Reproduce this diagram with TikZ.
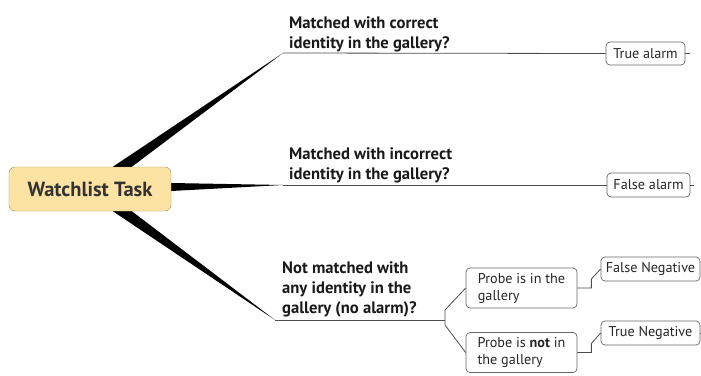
\documentclass[tikz,border=0pt]{standalone}
\usepackage{fontspec}
\setmainfont{PT Sans}
\usetikzlibrary{positioning,calc,backgrounds}

\definecolor{taskfill}{HTML}{FCE3A3}
\definecolor{taskline}{HTML}{9C8C6C}

\begin{document}
\begin{tikzpicture}[x=1pt,y=-1pt,
    task node/.style={draw=taskline,fill=taskfill,rounded corners=6pt,minimum width=162pt,
                      minimum height=44pt,text=black!80,font=\fontsize{20.5}{22}\selectfont\bfseries},
    question/.style={align=left,inner sep=0pt,text=black!90,font=\fontsize{16.6}{20}\selectfont\bfseries},
    leaf node/.style={draw=black!60,fill=white,rounded corners=4pt,line width=0.7pt,inner sep=0pt,
                      align=left,font=\fontsize{14.2}{17}\selectfont,text=black!85},
    link/.style={draw=black!70,line width=0.8pt},
    branch/.style={fill=black}]
  \useasboundingbox (0,0) rectangle (701,375);

  \node[task node] (task) at (90,189) {Watchlist Task};

  \coordinate (q1end) at (283,53);
  \coordinate (q2end) at (283,185);
  \coordinate (q3end) at (275,320);
  \coordinate (fork) at (445,320);

  % thick branches out of the task
  \begin{scope}[on background layer]
    \fill[branch] ($(task.north west)+(104,0)$) -- (q1end) -- ($(task.north west)+(123,0)$) -- cycle;
    \fill[branch] ($(task.east)+(0,-6)$) -- (q2end) -- ($(task.east)+(0,2)$) -- cycle;
    \fill[branch] ($(task.south west)+(104,0)$) -- (q3end) -- ($(task.south west)+(123,0)$) -- cycle;
  \end{scope}

  \node[question, above right=1pt and 6pt of q1end] (q1) {Matched with correct\\identity in the gallery?};
  \node[question, above right=2pt and 6pt of q2end] (q2) {Matched with incorrect\\identity in the gallery?};
  \node[question, above right=3pt and 7pt of q3end] (q3) {Not matched with\\any identity in the\\gallery (no alarm)?};

  \node[leaf node, minimum width=79pt, minimum height=23pt] (ta) at (645.5,53.5) {True alarm};
  \node[leaf node, minimum width=83pt, minimum height=24pt] (fa) at (648.5,185) {False alarm};
  \node[leaf node, minimum width=111pt, minimum height=40pt] (pin) at (521.5,288) {Probe is in the\\gallery};
  \node[leaf node, minimum width=111pt, minimum height=40pt] (pnot) at (521.5,352.5) {Probe is \textbf{not} in\\the gallery};
  \node[leaf node, minimum width=99pt, minimum height=24pt] (fn) at (650.5,269) {False Negative};
  \node[leaf node, minimum width=99pt, minimum height=24pt] (tn) at (650.5,333) {True Negative};

  \draw[link] (q1end) -- (ta.west);
  \draw[link] (ta.east) -- ++(5,0);
  \draw[link] (q2end) -- (fa.west);
  \draw[link] (fa.east) -- ++(4,0);
  \draw[link] (q3end) -- (fork);
  \draw[link] (fork) -- ++(0,-10) -- (pin.west);
  \draw[link] (fork) -- ++(0,5) -- (pnot.west);
  \draw[link] (pin.east) -- ++(14,0) -- ++(0,-9) -- (fn.west);
  \draw[link] (pnot.east) -- ++(14,0) -- ++(0,-9) -- (tn.west);
  \draw[link] (tn.east) -- ++(3,0);
\end{tikzpicture}
\end{document}
